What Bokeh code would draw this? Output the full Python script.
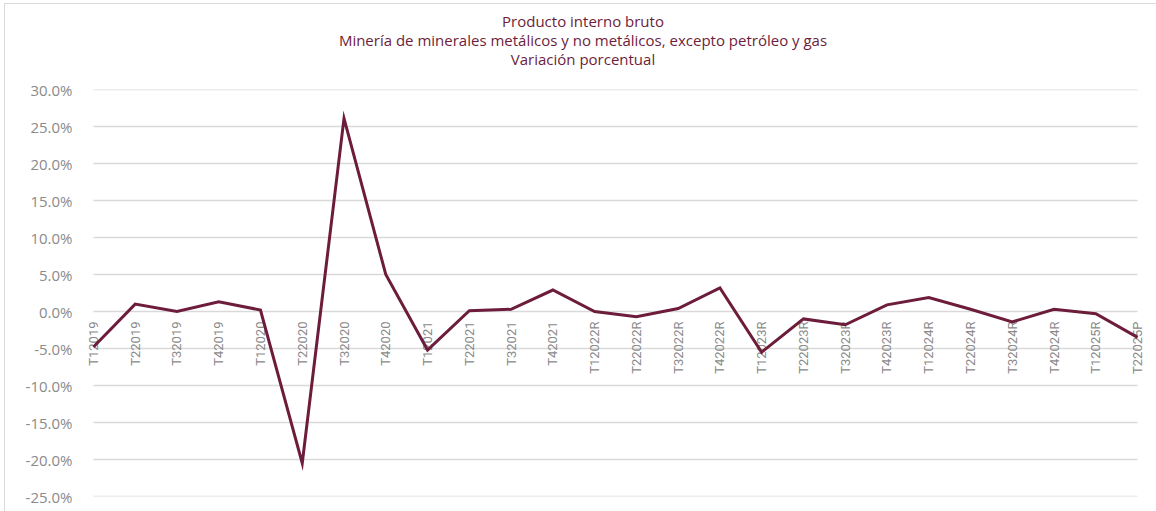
import math
from bokeh.plotting import figure
from bokeh.layouts import column
from bokeh.models import FactorRange, Range1d, FixedTicker, PrintfTickFormatter, Div
from bokeh.embed import file_html
from bokeh.resources import INLINE

categories = ["T12019", "T22019", "T32019", "T42019", "T12020", "T22020", "T32020", "T42020",
              "T12021", "T22021", "T32021", "T42021", "T12022R", "T22022R", "T32022R", "T42022R",
              "T12023R", "T22023R", "T32023R", "T42023R", "T12024R", "T22024R", "T32024R", "T42024R",
              "T12025R", "T22025P"]
variacion = [-4.8, 1.0, 0.0, 1.3, 0.2, -20.5, 26.1, 5.0,
             -5.2, 0.1, 0.3, 2.9, 0.0, -0.7, 0.4, 3.2,
             -5.5, -1.0, -1.8, 0.9, 1.9, 0.3, -1.4, 0.3,
             -0.3, -3.5]
y_ticks = [-25, -20, -15, -10, -5, 0, 5, 10, 15, 20, 25, 30]
title_lines = ["Producto interno bruto",
               "Minería de minerales metálicos y no metálicos, excepto petróleo y gas",
               "Variación porcentual"]

MAROON = "#6d1d3b"
GRAY_TXT = "#8a8a8a"
GRID = "#d9d9d9"

title_html = ('<div style="text-align:center; font-family:\'Open Sans\'; font-size:15px; '
              'line-height:19px; color:%s; padding-top:12px; padding-left:10px;">%s</div>'
              % (MAROON, "<br>".join(title_lines)))
title = Div(text=title_html, width=1156, height=70, margin=(0, 0, 0, 0),
            styles={"text-align": "center", "width": "1156px"})

p = figure(
    x_range=FactorRange(factors=categories, range_padding=-0.239, range_padding_units="absolute"),
    y_range=Range1d(-25, 30),
    frame_width=1066, frame_height=407,
    min_border_left=82, min_border_right=8, min_border_top=19, min_border_bottom=15,
    output_backend="svg", toolbar_location=None, margin=(0, 0, 0, 0),
)
p.outline_line_color = None
p.background_fill_color = "white"
p.border_fill_color = None

# horizontal gridlines spanning first to last category (as in the original)
n = len(y_ticks)
p.segment(x0=[categories[0]] * n, x1=[categories[-1]] * n, y0=y_ticks, y1=y_ticks,
          line_color=GRID, line_width=1.5, level="underlay")

p.line(x=categories, y=variacion, line_color=MAROON, line_width=3, line_join="miter")

# y axis
p.yaxis.ticker = FixedTicker(ticks=y_ticks)
p.yaxis.formatter = PrintfTickFormatter(format="%.1f%%")
p.yaxis.axis_line_color = None
p.yaxis.major_tick_line_color = None
p.yaxis.minor_tick_line_color = None
p.yaxis.major_tick_out = 0
p.yaxis.major_label_standoff = 10
p.yaxis.major_label_text_font = "Open Sans"
p.yaxis.major_label_text_font_size = "15px"
p.yaxis.major_label_text_color = GRAY_TXT

p.ygrid.visible = False
p.xgrid.visible = False

# x axis crossing at 0, drawn beneath the line
p.xaxis.fixed_location = 0
p.xaxis.level = "underlay"
p.xaxis.axis_line_color = None
p.xaxis.major_tick_line_color = None
p.xaxis.major_tick_out = 0
p.xaxis.major_label_standoff = 10
p.xaxis.major_label_orientation = math.pi / 2
p.xaxis.major_label_text_font = "Roboto"
p.xaxis.major_label_text_font_size = "13px"
p.xaxis.major_label_text_color = GRAY_TXT

layout = column(title, p, spacing=0, margin=(0, 0, 0, 0),
                styles={"box-shadow": "inset 0 3px 0 0 #ffffff, inset 4px 0 0 0 #ffffff, "
                                      "inset 0 4px 0 0 #d9d9d9, inset 5px 0 0 0 #d9d9d9",
                        "background-color": "white"})

open("out.html", "w").write(file_html(layout, INLINE))
